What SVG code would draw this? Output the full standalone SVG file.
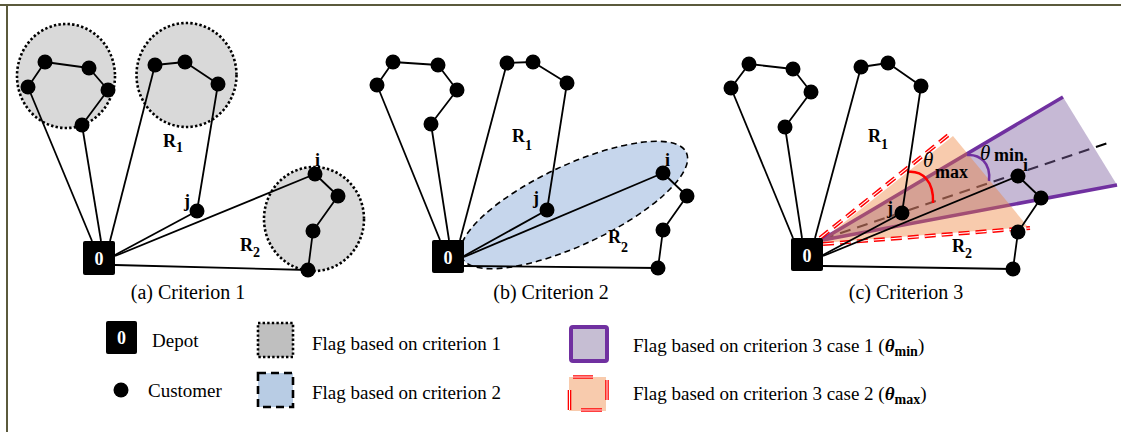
<svg xmlns="http://www.w3.org/2000/svg" width="1121" height="432" viewBox="0 0 1121 432">
<style>
.ln{stroke:#000;stroke-width:1.8;fill:none;stroke-linejoin:round}
.nd{fill:#000}
.dp{fill:#000}
.dt{font-family:"Liberation Serif","Times New Roman",serif;font-weight:bold;font-size:18px;fill:#fff;text-anchor:middle}
.lb{font-family:"Liberation Serif","Times New Roman",serif;font-weight:bold;font-size:18px;fill:#000}
.cap{font-family:"Liberation Serif","Times New Roman",serif;font-size:20px;fill:#000;text-anchor:middle}
.lg{font-family:"Liberation Serif","Times New Roman",serif;font-size:19px;fill:#000}
.c1{fill:#d9d9d9;stroke:#000;stroke-width:2.6;stroke-dasharray:2.4 2.2}
.rd{stroke:#ff0000;stroke-width:4;fill:none;stroke-dasharray:11 6}
.rw{stroke:#fff;stroke-width:1.1;fill:none;stroke-dasharray:11 6}
</style>
<rect x="0" y="0" width="1121" height="432" fill="#fff"/>
<g id="border">
<line x1="0" y1="5" x2="1121" y2="5" stroke="#5b5a3c" stroke-width="2"/>
<line x1="7" y1="5" x2="7" y2="432" stroke="#5b5a3c" stroke-width="2"/>
</g>
<g id="flags">
<ellipse cx="66" cy="76" rx="49" ry="52" class="c1"/>
<ellipse cx="186.5" cy="75" rx="50" ry="52" class="c1"/>
<ellipse cx="314" cy="219" rx="50" ry="52" class="c1"/>
<ellipse cx="574" cy="205" rx="124" ry="40" transform="rotate(-25 574 205)" fill="#c6d6ec" stroke="#000" stroke-width="1.6" stroke-dasharray="6 4"/>
<line x1="823" y1="239" x2="1108" y2="143" stroke="#000" stroke-width="2" stroke-dasharray="11 7"/>
<polygon points="823,239 1063,97 1117,185" fill="#8064a2" fill-opacity="0.45"/>
<line x1="823" y1="239" x2="1063" y2="97" stroke="#7030a0" stroke-width="3.5"/>
<line x1="823" y1="240" x2="1117" y2="185" stroke="#7030a0" stroke-width="3.5"/>
<polygon points="822,240 953,136 1028,227 822,243" fill="#ed7d31" fill-opacity="0.4"/>
<path d="M820,238 L951,133" class="rd"/>
<path d="M820,238 L951,133" class="rw"/>
<path d="M823,244 L1030,228" class="rd"/>
<path d="M823,244 L1030,228" class="rw"/>
<path d="M907,172 C922,170 934,181 933,203" fill="none" stroke="#ff0000" stroke-width="2.5"/>
<path d="M967,155 C980,154 991,163 989,181" fill="none" stroke="#7030a0" stroke-width="2.5"/>
</g>
<g id="connectors">
<polyline class="ln" points="28,87 45,62 89,68 108,90 82,125"/>
<line class="ln" x1="28" y1="87" x2="92" y2="241"/>
<line class="ln" x1="82" y1="125" x2="101" y2="241"/>
<line class="ln" x1="155" y1="65" x2="110" y2="241"/>
<polyline class="ln" points="155,65 185,62 218,84 197,211"/>
<line class="ln" x1="115" y1="255" x2="197" y2="211"/>
<line class="ln" x1="115" y1="256" x2="315" y2="174"/>
<polyline class="ln" points="315,174 338,196 313,231 308,270"/>
<line class="ln" x1="115" y1="265" x2="308" y2="270"/>
<polyline class="ln" points="377,85 393,62 438,65 457,90 431,124"/>
<line class="ln" x1="377" y1="85" x2="440" y2="240"/>
<line class="ln" x1="431" y1="124" x2="449" y2="240"/>
<line class="ln" x1="507" y1="63" x2="460" y2="240"/>
<polyline class="ln" points="507,63 533,62 567,83 547,210"/>
<line class="ln" x1="464" y1="256" x2="547" y2="210"/>
<line class="ln" x1="464" y1="257" x2="663" y2="173"/>
<polyline class="ln" points="663,173 687,196 663,230 658,268"/>
<line class="ln" x1="464" y1="266" x2="658" y2="268"/>
<polyline class="ln" points="731,88 749,64 793,69 811,92 785,127"/>
<line class="ln" x1="731" y1="88" x2="793" y2="238"/>
<line class="ln" x1="785" y1="127" x2="802" y2="238"/>
<line class="ln" x1="861" y1="67" x2="815" y2="238"/>
<polyline class="ln" points="861,67 888,63 921,86 902,213"/>
<line class="ln" x1="823" y1="255" x2="902" y2="213"/>
<line class="ln" x1="823" y1="256" x2="1018" y2="176"/>
<polyline class="ln" points="1018,176 1041,198 1018,232 1013,269"/>
<line class="ln" x1="823" y1="266" x2="1013" y2="269"/>
</g>
<g id="depot-a"><rect class="dp" x="83" y="241" width="32" height="34" rx="2"/><text class="dt" x="99" y="265">0</text></g>
<g id="depot-b"><rect class="dp" x="432" y="240" width="32" height="33" rx="2"/><text class="dt" x="448" y="264">0</text></g>
<g id="depot-c"><rect class="dp" x="791" y="238" width="32" height="33" rx="2"/><text class="dt" x="807" y="262">0</text></g>
<g id="nodes-a">
<circle class="nd" cx="28" cy="87" r="7.5"/><circle class="nd" cx="45" cy="62" r="7.5"/><circle class="nd" cx="89" cy="68" r="7.5"/><circle class="nd" cx="108" cy="90" r="7.5"/><circle class="nd" cx="82" cy="125" r="7.5"/>
<circle class="nd" cx="155" cy="65" r="7.5"/><circle class="nd" cx="185" cy="62" r="7.5"/><circle class="nd" cx="218" cy="84" r="7.5"/><circle class="nd" cx="197" cy="211" r="7.5"/>
<circle class="nd" cx="315" cy="174" r="7.5"/><circle class="nd" cx="338" cy="196" r="7.5"/><circle class="nd" cx="313" cy="231" r="7.5"/><circle class="nd" cx="308" cy="270" r="7.5"/>
</g>
<g id="nodes-b">
<circle class="nd" cx="377" cy="85" r="7.5"/><circle class="nd" cx="393" cy="62" r="7.5"/><circle class="nd" cx="438" cy="65" r="7.5"/><circle class="nd" cx="457" cy="90" r="7.5"/><circle class="nd" cx="431" cy="124" r="7.5"/>
<circle class="nd" cx="507" cy="63" r="7.5"/><circle class="nd" cx="533" cy="62" r="7.5"/><circle class="nd" cx="567" cy="83" r="7.5"/><circle class="nd" cx="547" cy="210" r="7.5"/>
<circle class="nd" cx="663" cy="173" r="7.5"/><circle class="nd" cx="687" cy="196" r="7.5"/><circle class="nd" cx="663" cy="230" r="7.5"/><circle class="nd" cx="658" cy="268" r="7.5"/>
</g>
<g id="nodes-c">
<circle class="nd" cx="731" cy="88" r="7.5"/><circle class="nd" cx="749" cy="64" r="7.5"/><circle class="nd" cx="793" cy="69" r="7.5"/><circle class="nd" cx="811" cy="92" r="7.5"/><circle class="nd" cx="785" cy="127" r="7.5"/>
<circle class="nd" cx="861" cy="67" r="7.5"/><circle class="nd" cx="888" cy="63" r="7.5"/><circle class="nd" cx="921" cy="86" r="7.5"/><circle class="nd" cx="902" cy="213" r="7.5"/>
<circle class="nd" cx="1018" cy="176" r="7.5"/><circle class="nd" cx="1041" cy="198" r="7.5"/><circle class="nd" cx="1018" cy="232" r="7.5"/><circle class="nd" cx="1013" cy="269" r="7.5"/>
</g>
<g id="labels">
<text class="lb" x="163" y="147">R<tspan font-size="14" dy="5">1</tspan></text>
<text class="lb" x="184" y="207">j</text>
<text class="lb" x="315" y="166">i</text>
<text class="lb" x="240" y="251">R<tspan font-size="14" dy="6">2</tspan></text>
<text class="lb" x="512" y="142">R<tspan font-size="14" dy="8">1</tspan></text>
<text class="lb" x="533" y="204">j</text>
<text class="lb" x="665" y="166">i</text>
<text class="lb" x="608" y="243">R<tspan font-size="14" dy="9">2</tspan></text>
<text class="lb" x="868" y="142">R<tspan font-size="14" dy="7">1</tspan></text>
<text class="lb" x="887" y="214">j</text>
<text class="lb" x="1023" y="171">i</text>
<text class="lb" x="952" y="252">R<tspan font-size="14" dy="6">2</tspan></text>
<text x="923" y="167" font-family="Liberation Serif,serif" font-style="italic" font-size="21">θ</text>
<text class="lb" x="935" y="178" font-size="15">max</text>
<text x="980" y="160" font-family="Liberation Serif,serif" font-style="italic" font-size="21">θ</text>
<text class="lb" x="994" y="161" font-size="15">min</text>
<text class="cap" x="188" y="299">(a) Criterion 1</text>
<text class="cap" x="551" y="299">(b) Criterion 2</text>
<text class="cap" x="906" y="299">(c) Criterion 3</text>
</g>
<g id="legend-depot"><rect class="dp" x="106" y="321" width="31" height="33" rx="2"/><text class="dt" x="121.5" y="344">0</text><text class="lg" x="152" y="347">Depot</text></g>
<g id="legend-customer"><circle class="nd" cx="121" cy="390" r="7.5"/><text class="lg" x="148" y="397">Customer</text></g>
<g id="legend-c1"><rect x="258" y="323" width="35" height="34" fill="#bfbfbf" stroke="#000" stroke-width="2.6" stroke-dasharray="2.4 2.2"/><text class="lg" x="312" y="350">Flag based on criterion 1</text></g>
<g id="legend-c2"><rect x="258" y="373" width="35" height="34" fill="#b8cce4" stroke="#000" stroke-width="2.6" stroke-dasharray="8 5"/><text class="lg" x="312" y="399">Flag based on criterion 2</text></g>
<g id="legend-c3a"><rect x="571" y="327" width="36" height="34" rx="2" fill="#c6bed3" stroke="#7030a0" stroke-width="4"/><text class="lg" x="633" y="352">Flag based on criterion 3 case 1 (<tspan font-weight="bold" font-style="italic">θ</tspan><tspan font-weight="bold" font-size="14" dy="4">min</tspan><tspan dy="-4">)</tspan></text></g>
<g id="legend-c3b"><rect x="569" y="377" width="37" height="34" fill="#f8cbad"/>
<path d="M573,377 H593 M607,380 V400 M581,410 H602 M569.5,390 V410" stroke="#ff0000" stroke-width="3.6" fill="none"/>
<path d="M573,377 H593 M607,380 V400 M581,410 H602 M569.5,390 V410" stroke="#fff" stroke-width="1" fill="none"/>
<text class="lg" x="633" y="400">Flag based on criterion 3 case 2 (<tspan font-weight="bold" font-style="italic">θ</tspan><tspan font-weight="bold" font-size="14" dy="4">max</tspan><tspan dy="-4">)</tspan></text></g>
</svg>
